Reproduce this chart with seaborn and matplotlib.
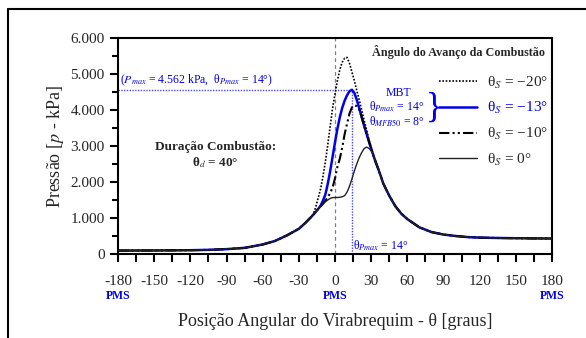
import numpy as np
import pandas as pd
import matplotlib.pyplot as plt
import matplotlib.transforms as mtransforms
from matplotlib.lines import Line2D
import seaborn as sns

# posição angular (graus): compressão comum, janela de combustão, expansão comum
theta_comp = [-180, -150, -120, -105, -90, -75, -60, -50, -40, -30, -25, -20]
theta_comb = [-18, -16, -14, -12, -10, -8, -6, -4, -2, 0, 2, 4, 6, 8, 10,
              12, 14, 16, 18, 20, 22, 24, 26, 28, 30, 32, 34, 36, 38, 40]
theta_exp = [45, 50, 55, 60, 70, 80, 90, 100, 110, 120, 135, 150, 165, 180]

# pressão (kPa)
p_comp = [95, 98, 105, 115, 135, 170, 264, 360, 515, 700, 850, 1020]
p_exp = [1620, 1330, 1120, 970, 740, 610, 540, 500, 470, 455, 445, 438, 433, 430]

p_s20 = [1110, 1300, 1550, 1800, 2150, 2560, 3030, 3550, 4050, 4450, 4820, 5120, 5330, 5440, 5460,
         5300, 5060, 4820, 4550, 4290, 4020, 3740, 3480, 3200, 2960, 2740, 2540, 2360, 2170, 1970]
p_s13 = [1090, 1170, 1250, 1340, 1480, 1650, 1950, 2300, 2700, 3100, 3480, 3800, 4060, 4260, 4410,
         4520, 4562, 4480, 4290, 4060, 3820, 3580, 3360, 3140, 2930, 2720, 2530, 2350, 2160, 1960]
p_s10 = [1090, 1170, 1250, 1320, 1390, 1480, 1580, 1690, 1850, 2100, 2420, 2650, 2960, 3330, 3620,
         3900, 4070, 4130, 4110, 4030, 3820, 3580, 3360, 3140, 2930, 2720, 2530, 2350, 2160, 1960]
p_s0 = [1090, 1170, 1250, 1320, 1390, 1450, 1500, 1545, 1565, 1570, 1570, 1575, 1590, 1620, 1720,
        1880, 2080, 2300, 2500, 2670, 2810, 2920, 2970, 2940, 2870, 2730, 2530, 2350, 2160, 1960]

series_names = ["θ$_S$ = −20°", "θ$_S$ = −13°", "θ$_S$ = −10°", "θ$_S$ = 0°"]
x_ticks = [-180, -150, -120, -90, -60, -30, 0, 30, 60, 90, 120, 150, 180]
y_ticks = [0, 1000, 2000, 3000, 4000, 5000, 6000]
y_tick_labels = ["0", "1.000", "2.000", "3.000", "4.000", "5.000", "6.000"]
pms_positions = [-180, 0, 180]
theta_pmax = 14
p_max = 4562

BLUE = "#0000ee"
LBLUE = "#4a4aff"

sns.set_style("ticks")
plt.rcParams['font.family'] = ['Liberation Serif', 'DejaVu Serif']
plt.rcParams['mathtext.fontset'] = 'stix'
plt.rcParams['axes.unicode_minus'] = False

rows = []
for name, p_mid in zip(series_names, [p_s20, p_s13, p_s10, p_s0]):
    thetas = theta_comp + theta_comb + theta_exp
    ps = p_comp + p_mid + p_exp
    for t, p in zip(thetas, ps):
        rows.append((name, t, p))
df = pd.DataFrame(rows, columns=['serie', 'theta', 'p'])

fig = plt.figure(figsize=(5.86, 3.38), dpi=100)
ax = fig.add_axes([118 / 586, 1 - 254 / 338, 434 / 586, 216 / 338])

styles = {
    series_names[1]: dict(color=BLUE, lw=1.8, ls='-'),
    series_names[0]: dict(color='black', lw=1.2, ls=(0, (1, 1))),
    series_names[2]: dict(color='black', lw=1.5, ls=(0, (5, 1.5, 1, 1.5, 1, 1.5))),
    series_names[3]: dict(color='#222222', lw=1.0, ls='-'),
}
for name in [series_names[1], series_names[0], series_names[2], series_names[3]]:
    st = styles[name]
    sns.lineplot(data=df[df.serie == name], x='theta', y='p', ax=ax, color=st['color'],
                 linewidth=st['lw'], linestyle=st['ls'], sort=False, legend=False, zorder=3)

# linhas de referência
ax.axvline(0, color='gray', lw=0.9, ls=(0, (3, 2.5)), zorder=1)
ax.plot([-180, theta_pmax], [p_max, p_max], color=LBLUE, lw=1.0, ls=(0, (1, 1)), zorder=2)
ax.plot([theta_pmax, theta_pmax], [0, p_max], color=LBLUE, lw=1.0, ls=(0, (1, 1)), zorder=2)

ax.set_xlim(-180, 180)
ax.set_ylim(0, 6000)
ax.set_xticks(x_ticks)
ax.set_xticklabels([str(v) for v in x_ticks])
ax.set_xticks(np.arange(-165, 180, 30), minor=True)
ax.set_yticks(y_ticks)
ax.set_yticklabels(y_tick_labels)
ax.set_yticks(np.arange(500, 6000, 1000), minor=True)
ax.tick_params(axis='both', which='major', labelsize=11, width=1.5, length=6, direction='out', color='black')
ax.tick_params(axis='x', which='major', pad=9)
ax.tick_params(axis='x', which='minor', width=1.5, length=6, direction='out', color='black')
ax.tick_params(axis='y', which='minor', width=1.5, length=4, direction='out', color='black')
for sp in ax.spines.values():
    sp.set_linewidth(1.5)
    sp.set_color('black')

ax.set_xlabel("Posição Angular do Virabrequim - θ [graus]", fontsize=13, labelpad=18)
ax.set_ylabel("Pressão [$p$ - kPa]", fontsize=13, labelpad=3)

# rótulos PMS
trans = mtransforms.blended_transform_factory(ax.transData, ax.transAxes)
for xp in pms_positions:
    ax.text(xp, -0.195, "PMS", transform=trans, ha='center', va='center',
            color=BLUE, fontsize=8.5, fontweight='bold')

# anotações
ax.text(-178, 4600, "($P_{max}$ = 4.562 kPa,  θ$_{Pmax}$ = 14°)", color=BLUE,
        fontsize=8.5, ha='left', va='bottom')
ax.text(15, 230, "θ$_{Pmax}$ = 14°", color=BLUE, fontsize=8.5, ha='left', va='center')
ax.text(-99, 2960, "Duração Combustão:", fontsize=9.5, fontweight='bold', ha='center', va='center')
ax.text(-99, 2530, "θ$_d$ = 40°", fontsize=9.5, fontweight='bold', ha='center', va='center')

ax.text(0.645, 0.745, "MBT", transform=ax.transAxes, color=BLUE, fontsize=8.5, ha='center', va='center')
ax.text(0.707, 0.68, "θ$_{Pmax}$ = 14°", transform=ax.transAxes, color=BLUE, fontsize=8.5,
        ha='right', va='center')
ax.text(0.707, 0.611, "θ$_{MFB50}$ = 8°", transform=ax.transAxes, color=BLUE, fontsize=8.5,
        ha='right', va='center')
ax.text(0.709, 0.675, "}", transform=ax.transAxes, color=BLUE, fontsize=25, ha='left', va='center')

# legenda
ax.text(0.984, 0.935, "Ângulo do Avanço da Combustão", transform=ax.transAxes, fontsize=8.7,
        fontweight='bold', ha='right', va='center')
handles = [Line2D([], [], color=styles[n]['color'], lw=styles[n]['lw'], ls=styles[n]['ls'])
           for n in series_names]
leg = ax.legend(handles, series_names, loc='upper right', bbox_to_anchor=(0.992, 0.83),
                frameon=False, fontsize=11, handlelength=2.5, handletextpad=0.7,
                labelspacing=0.62, borderpad=0, borderaxespad=0)
leg.get_texts()[1].set_color(BLUE)

# moldura externa
fig.add_artist(Line2D([8 / 586, 8 / 586], [0, 1 - 9 / 338], color='black', lw=1.5))
fig.add_artist(Line2D([8 / 586, 1], [1 - 9 / 338, 1 - 9 / 338], color='black', lw=1.5))

fig.savefig("out.png", dpi=100)
